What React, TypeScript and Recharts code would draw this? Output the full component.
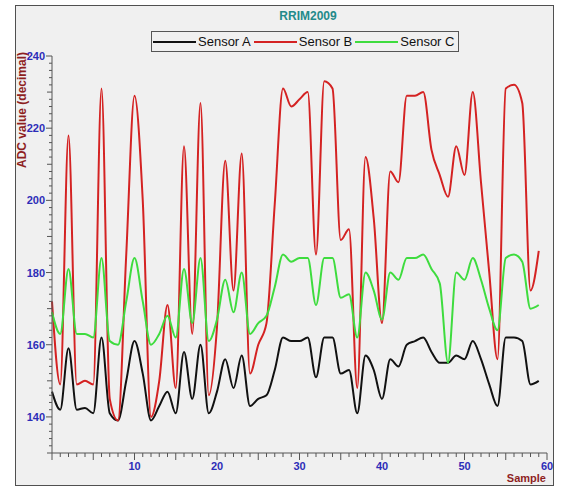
import { LineChart, Line, XAxis, YAxis, Legend } from "recharts";

const sensorA = [
  147, 142, 159, 142, 142.5, 141, 162, 141, 139, 150, 161, 152, 139, 143, 147,
  141, 158, 145, 160, 141, 147, 156, 148, 157, 143, 145, 146, 153, 162, 161,
  161, 162, 151, 162, 162, 152, 153, 141, 157, 153, 145, 156, 154, 160, 161,
  162, 158, 155, 155, 157, 156, 161, 156, 149, 143, 162, 162, 161, 149, 150,
];
const sensorB = [
  172, 149, 218, 149, 150, 149, 231, 145, 139, 185, 229, 200, 140, 150, 171,
  148, 215, 163, 227, 146, 165, 211, 175, 213, 152, 160, 166, 199, 231, 226,
  228, 230, 185, 233, 231, 189, 192, 148, 212, 195, 166, 208, 205, 229, 229,
  230, 214, 207, 201, 215, 207, 230, 205, 180, 156, 231, 232, 227, 175, 186,
];
const sensorC = [
  169, 163, 181, 163, 163, 162, 184, 161, 160, 172, 184, 172, 160, 163, 168,
  162, 181, 166, 184, 161, 167, 178, 169, 180, 163, 166, 168, 176, 185, 183,
  184, 184, 171, 184, 184, 173, 174, 162, 180, 175, 167, 180, 178, 184, 184,
  185, 181, 177, 155, 180, 178, 184, 178, 170, 164, 184, 185, 183, 170, 171,
];

const yLabels = [140, 160, 180, 200, 220, 240];
const xLabels = [10, 20, 30, 40, 50, 60];

const seriesInfo = [
  { key: "a", name: "Sensor A", color: "#111111" },
  { key: "b", name: "Sensor B", color: "#d42222" },
  { key: "c", name: "Sensor C", color: "#3edc3e" },
];

const data = sensorA.map((v, i) => ({
  sample: i,
  a: v,
  b: sensorB[i],
  c: sensorC[i],
}));

const yTicks: number[] = [];
for (let v = 130; v <= 240; v += 2) yTicks.push(v);
const xTicks: number[] = [];
for (let v = 0; v <= 60; v++) xTicks.push(v);

const FONT = "'Liberation Sans', Arial, sans-serif";
const BLUE = "#2d2db8";
const MAROON = "#8e1f1f";
const AXIS = "#555";

function YTick({ x, y, payload }: any) {
  const v = payload.value;
  const len = v % 20 === 0 ? 6 : v % 10 === 0 ? 5 : 3;
  return (
    <g>
      <line x1={x - len} x2={x} y1={y} y2={y} stroke={AXIS} />
      {yLabels.includes(v) && (
        <text
          x={x - 7}
          y={y}
          dy={4}
          textAnchor="end"
          fontFamily={FONT}
          fontSize={11}
          fontWeight={700}
          fill={BLUE}
        >
          {v}
        </text>
      )}
    </g>
  );
}

function XTick({ x, y, payload }: any) {
  const v = payload.value;
  const len = v % 5 === 0 ? 7 : 4;
  return (
    <g>
      <line x1={x} x2={x} y1={y} y2={y + len} stroke={AXIS} />
      {xLabels.includes(v) && (
        <text
          x={x}
          y={y + 17}
          textAnchor="middle"
          fontFamily={FONT}
          fontSize={11}
          fontWeight={700}
          fill={BLUE}
        >
          {v}
        </text>
      )}
    </g>
  );
}

function LegendBox() {
  return (
    <div
      style={{
        boxSizing: "border-box",
        width: 308,
        height: 21,
        border: "1px solid #555",
        display: "flex",
        alignItems: "center",
        padding: "0 1px",
        fontFamily: FONT,
        fontSize: 13,
        color: "#111",
        whiteSpace: "nowrap",
        overflow: "visible",
      }}
    >
      {seriesInfo.map((s) => (
        <span
          key={s.key}
          style={{
            display: "flex",
            alignItems: "center",
            marginRight: 3,
            flexShrink: 0,
          }}
        >
          <span
            style={{
              width: 43,
              height: 0,
              borderTop: `2px solid ${s.color}`,
              flexShrink: 0,
            }}
          />
          <span style={{ marginLeft: 2 }}>{s.name}</span>
        </span>
      ))}
    </div>
  );
}

export default function App() {
  return (
    <div
      style={{
        position: "absolute",
        left: 0,
        top: 0,
        width: 562,
        height: 486,
        background: "#fff",
      }}
    >
      <div
        style={{
          position: "absolute",
          left: 15,
          top: 5,
          width: 539,
          height: 481,
          boxSizing: "border-box",
          background: "#f0f0f0",
          border: "1px solid #505050",
        }}
      />
      <div style={{ position: "absolute", left: 0, top: 0 }}>
        <LineChart
          width={562}
          height={486}
          data={data}
          margin={{ top: 56, right: 15, bottom: 8, left: 12 }}
        >
          <text
            x={308}
            y={20}
            textAnchor="middle"
            fontFamily={FONT}
            fontSize={12}
            fontWeight={700}
            fill="#238a8a"
          >
            RRIM2009
          </text>
          <text
            transform="translate(26,110) rotate(-90)"
            textAnchor="middle"
            fontFamily={FONT}
            fontSize={12}
            fontWeight={700}
            fill={MAROON}
          >
            ADC value (decimal)
          </text>
          <text
            x={546}
            y={482}
            textAnchor="end"
            fontFamily={FONT}
            fontSize={11}
            fontWeight={700}
            fill={MAROON}
          >
            Sample
          </text>
          <XAxis
            dataKey="sample"
            type="number"
            domain={[0, 60]}
            ticks={xTicks}
            interval={0}
            height={25}
            tickSize={0}
            tickMargin={0}
            tickLine={false}
            axisLine={{ stroke: AXIS }}
            tick={<XTick />}
          />
          <YAxis
            domain={[130, 240]}
            ticks={yTicks}
            interval={0}
            width={40}
            tickSize={0}
            tickMargin={0}
            tickLine={false}
            axisLine={{ stroke: AXIS }}
            tick={<YTick />}
            allowDataOverflow
          />
          <Legend
            layout="horizontal"
            verticalAlign="middle"
            align="center"
            wrapperStyle={{ left: 151, top: 31, width: 308, height: 21 }}
            content={() => <LegendBox />}
          />
          {seriesInfo.map((s) => (
            <Line
              key={s.key}
              type="monotone"
              dataKey={s.key}
              name={s.name}
              stroke={s.color}
              strokeWidth={2}
              dot={false}
              isAnimationActive={false}
            />
          ))}
        </LineChart>
      </div>
    </div>
  );
}
